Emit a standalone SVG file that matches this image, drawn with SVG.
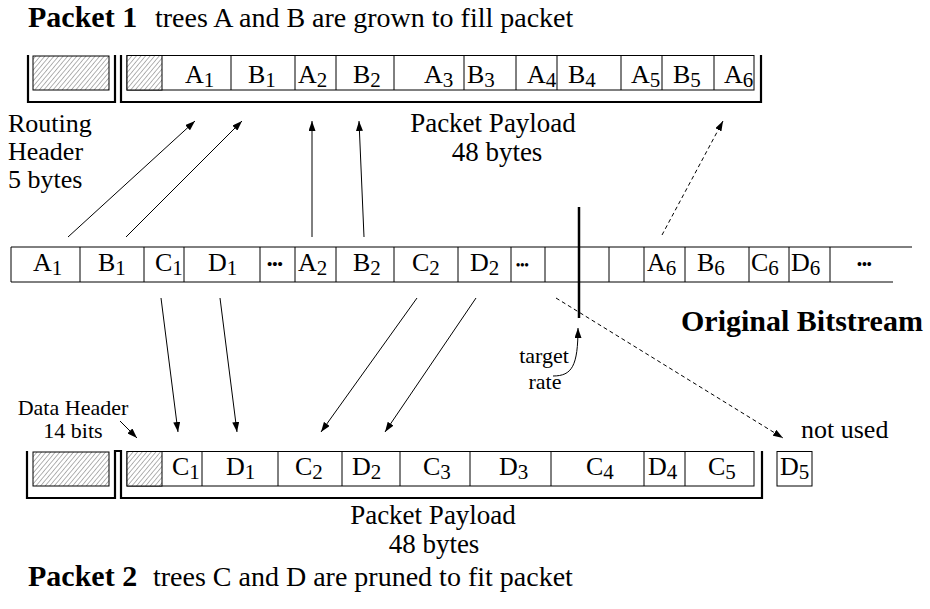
<svg xmlns="http://www.w3.org/2000/svg" width="930" height="609" viewBox="0 0 930 609">
<style>
text{font-family:"Liberation Serif","Times New Roman",serif;fill:#000}
.cell{font-size:26px}
.sub{font-size:21px}
.lbl{font-size:26px}
.ttl{font-size:28px}
.pay{font-size:27px}
.sm{font-size:22px}
.bold{font-weight:bold;font-size:30px}
.box{fill:#fff;stroke:#000;stroke-width:1}
.hat{fill:url(#hatch);stroke:#000;stroke-width:1}
.div{stroke:#000;stroke-width:1}
.br{fill:none;stroke:#000;stroke-width:2.2}
.ar{fill:none;stroke:#000;stroke-width:1;marker-end:url(#ah)}
.da{fill:none;stroke:#000;stroke-width:1;stroke-dasharray:4 3;marker-end:url(#ah)}
.dots{font-size:15px;font-weight:bold}
</style>
<defs>
<pattern id="hatch" width="3.5" height="3.5" patternUnits="userSpaceOnUse" patternTransform="rotate(40)">
<rect width="3.5" height="3.5" fill="#fff"/>
<line x1="0" y1="0" x2="0" y2="3.5" stroke="#444" stroke-width="0.8"/>
</pattern>
<marker id="ah" markerUnits="userSpaceOnUse" markerWidth="10" markerHeight="7" refX="10" refY="3.5" orient="auto">
<path d="M0,0 L10,3.5 L0,7 z" fill="#000"/>
</marker>
</defs>

<g id="title1">
<text x="28" y="27" class="bold">Packet 1</text>
<text x="155" y="27" class="ttl">trees A and B are grown to fill packet</text>
</g>

<g id="packet1">
<path class="br" d="M28,55 V102 H115 V55"/>
<path class="br" d="M121,55 V102 H761 V55"/>
<rect class="hat" x="33" y="56" width="76" height="34"/>
<rect class="box" x="127" y="55.5" width="627" height="34.5"/>
<rect class="hat" x="127" y="55.5" width="35" height="34.5"/>
<path class="div" d="M231,55.5V90M295,55.5V90M336,55.5V90M394,55.5V90M464,55.5V90M516,55.5V90M557,55.5V90M621,55.5V90M662,55.5V90M714,55.5V90"/>
<text class="cell" x="185" y="83">A<tspan class="sub" dy="4">1</tspan></text>
<text class="cell" x="248" y="83">B<tspan class="sub" dy="4">1</tspan></text>
<text class="cell" x="298" y="83">A<tspan class="sub" dy="4">2</tspan></text>
<text class="cell" x="353" y="83">B<tspan class="sub" dy="4">2</tspan></text>
<text class="cell" x="424" y="83">A<tspan class="sub" dy="4">3</tspan></text>
<text class="cell" x="467" y="83">B<tspan class="sub" dy="4">3</tspan></text>
<text class="cell" x="527" y="83">A<tspan class="sub" dy="4">4</tspan></text>
<text class="cell" x="568" y="83">B<tspan class="sub" dy="4">4</tspan></text>
<text class="cell" x="631" y="83">A<tspan class="sub" dy="4">5</tspan></text>
<text class="cell" x="673" y="83">B<tspan class="sub" dy="4">5</tspan></text>
<text class="cell" x="724" y="83">A<tspan class="sub" dy="4">6</tspan></text>
</g>

<g id="labels1">
<text class="lbl" x="8" y="132">Routing</text>
<text class="lbl" x="8" y="160">Header</text>
<text class="lbl" x="8" y="188">5 bytes</text>
<text class="pay" x="493" y="132" text-anchor="middle">Packet Payload</text>
<text class="pay" x="497" y="161" text-anchor="middle">48 bytes</text>
</g>

<g id="bitstream">
<path class="div" d="M11,247 H912 M11,282 H893 M11,247 V282"/>
<path class="div" d="M80,247V282M144,247V282M184,247V282M260,247V282M295,247V282M336,247V282M394,247V282M458,247V282M511,247V282M545,247V282M609,247V282M644,247V282M685,247V282M749,247V282M789,247V282M830,247V282"/>
<text class="cell" x="33" y="271">A<tspan class="sub" dy="4">1</tspan></text>
<text class="cell" x="98" y="271">B<tspan class="sub" dy="4">1</tspan></text>
<text class="cell" x="155" y="271">C<tspan class="sub" dy="4">1</tspan></text>
<text class="cell" x="208" y="271">D<tspan class="sub" dy="4">1</tspan></text>
<text class="dots" x="267" y="269">•••</text>
<text class="cell" x="298" y="271">A<tspan class="sub" dy="4">2</tspan></text>
<text class="cell" x="353" y="271">B<tspan class="sub" dy="4">2</tspan></text>
<text class="cell" x="412" y="271">C<tspan class="sub" dy="4">2</tspan></text>
<text class="cell" x="470" y="271">D<tspan class="sub" dy="4">2</tspan></text>
<text class="dots" x="516" y="269" style="font-size:12px">•••</text>
<text class="cell" x="647" y="271">A<tspan class="sub" dy="4">6</tspan></text>
<text class="cell" x="697" y="271">B<tspan class="sub" dy="4">6</tspan></text>
<text class="cell" x="751" y="271">C<tspan class="sub" dy="4">6</tspan></text>
<text class="cell" x="791" y="271">D<tspan class="sub" dy="4">6</tspan></text>
<text class="dots" x="857" y="269" style="font-size:14px">•••</text>
<line x1="579" y1="207" x2="579" y2="318" stroke="#000" stroke-width="2.5"/>
<text class="bold" x="681" y="331">Original Bitstream</text>
</g>

<g id="target">
<text class="sm" x="544" y="363" text-anchor="middle">target</text>
<text class="sm" x="545" y="389" text-anchor="middle">rate</text>
</g>

<g id="dataheader">
<text class="sm" x="73" y="415" text-anchor="middle">Data Header</text>
<text class="sm" x="73" y="438" text-anchor="middle">14 bits</text>
</g>

<g id="packet2">
<path class="br" d="M27,451 V498 H115 V451 H121 V498 H762 V451"/>
<rect class="hat" x="33" y="452" width="76" height="34"/>
<rect class="box" x="127" y="451.5" width="627" height="34.5"/>
<rect class="hat" x="127" y="451.5" width="35" height="34.5"/>
<path class="div" d="M202,451.5V486M278,451.5V486M342,451.5V486M400,451.5V486M470,451.5V486M551,451.5V486M644,451.5V486M685,451.5V486"/>
<text class="cell" x="172" y="475">C<tspan class="sub" dy="4">1</tspan></text>
<text class="cell" x="226" y="475">D<tspan class="sub" dy="4">1</tspan></text>
<text class="cell" x="295" y="475">C<tspan class="sub" dy="4">2</tspan></text>
<text class="cell" x="352" y="475">D<tspan class="sub" dy="4">2</tspan></text>
<text class="cell" x="423" y="475">C<tspan class="sub" dy="4">3</tspan></text>
<text class="cell" x="499" y="475">D<tspan class="sub" dy="4">3</tspan></text>
<text class="cell" x="586" y="475">C<tspan class="sub" dy="4">4</tspan></text>
<text class="cell" x="648" y="475">D<tspan class="sub" dy="4">4</tspan></text>
<text class="cell" x="708" y="475">C<tspan class="sub" dy="4">5</tspan></text>
</g>

<g id="d5">
<rect class="box" x="777" y="451.5" width="35" height="34.5"/>
<text class="cell" x="780" y="475">D<tspan class="sub" dy="4">5</tspan></text>
<text class="lbl" x="801" y="438">not used</text>
</g>

<g id="labels2">
<text class="pay" x="433" y="524" text-anchor="middle">Packet Payload</text>
<text class="pay" x="434" y="553" text-anchor="middle">48 bytes</text>
<text x="28" y="586" class="bold">Packet 2</text>
<text x="153" y="586" class="ttl">trees C and D are pruned to fit packet</text>
</g>

<g id="connectors">
<line class="ar" x1="68" y1="237" x2="195" y2="121"/>
<line class="ar" x1="126" y1="237" x2="242" y2="121"/>
<line class="ar" x1="312" y1="237" x2="312" y2="121"/>
<line class="ar" x1="364" y1="237" x2="359" y2="121"/>
<line class="da" x1="662" y1="235" x2="723" y2="121"/>
<line class="ar" x1="161" y1="298" x2="178" y2="432"/>
<line class="ar" x1="220" y1="298" x2="237" y2="432"/>
<line class="ar" x1="417" y1="298" x2="321" y2="432"/>
<line class="ar" x1="476" y1="298" x2="385" y2="432"/>
<line class="da" x1="556" y1="298" x2="783" y2="438"/>
<line class="ar" x1="120" y1="421" x2="137" y2="438"/>
<path class="ar" d="M553,376 C572,376 578,366 578,328"/>
</g>
</svg>
